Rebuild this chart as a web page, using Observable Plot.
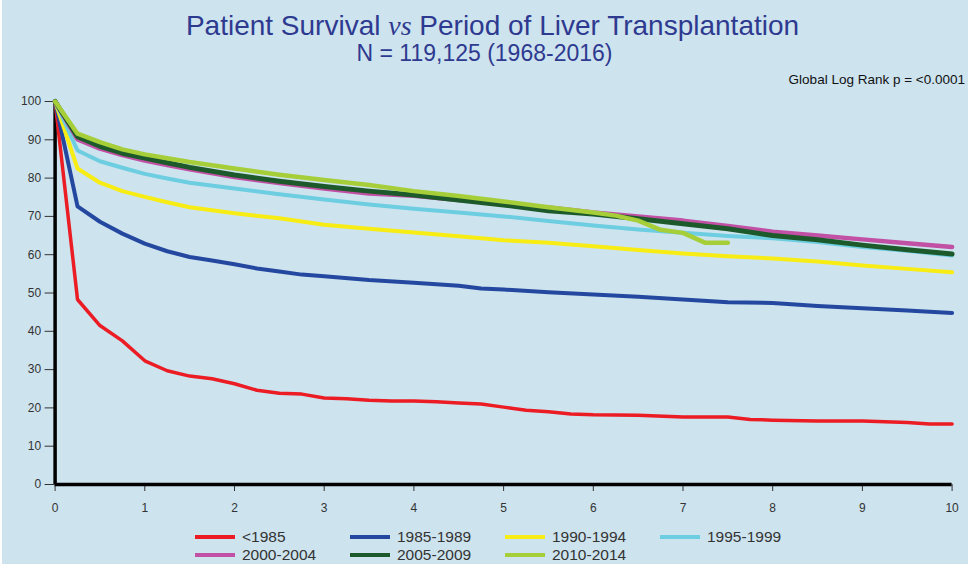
<!DOCTYPE html>
<html>
<head>
<meta charset="utf-8">
<script src="https://cdn.jsdelivr.net/npm/d3@7"></script>
<script src="https://cdn.jsdelivr.net/npm/@observablehq/plot@0.6"></script>
<style>
  body { margin: 0; background: #ffffff; width: 972px; height: 567px; overflow: hidden; font-family: "Liberation Sans", Arial, sans-serif; }
  #panel { position: absolute; left: 2px; top: 0; width: 966px; height: 564px; background: #cde3ee; }
  .t { position: absolute; white-space: nowrap; }
  #title { left: 0; width: 985px; text-align: center; top: 12px; font-size: 28px; line-height: 28px; color: #2e3a90; }
  #title i { font-family: "Liberation Serif", "Times New Roman", serif; }
  #subtitle { left: 0; width: 969px; text-align: center; top: 42px; font-size: 23px; line-height: 23px; color: #2e3a90; }
  #logrank { right: 7px; top: 73px; font-size: 13.5px; line-height: 14px; color: #111; }
  #chart { position: absolute; left: 0; top: 80px; }
  .leg { position: absolute; height: 18px; font-size: 15.5px; line-height: 18px; color: #333; }
  .leg .sw { position: absolute; left: 0; top: 7px; width: 40px; height: 4px; }
  .leg .lb { position: absolute; left: 47px; top: 0; white-space: nowrap; }
</style>
</head>
<body>
<div id="panel"></div>
<div class="t" id="title">Patient Survival <i>vs</i> Period of Liver Transplantation</div>
<div class="t" id="subtitle">N = 119,125 (1968-2016)</div>
<div class="t" id="logrank">Global Log Rank p = &lt;0.0001</div>
<div id="chart"></div>
<div id="legend"></div>
<script>
// ---- data (years after transplant, % survival) ----
const seriesNames = ["<1985", "1985-1989", "1990-1994", "1995-1999", "2000-2004", "2005-2009", "2010-2014"];
const seriesColors = ["#ec1c24", "#2448a0", "#f7ec13", "#6dcde1", "#c250a5", "#1d5a2b", "#a6ce39"];

const tRed = [0,0.25,0.5,0.75,1,1.25,1.5,1.75,2,2.25,2.5,2.75,3,3.25,3.5,3.75,4,4.25,4.5,4.75,5,5.25,5.5,5.75,6,6.5,7,7.25,7.5,7.75,8,8.5,9,9.5,9.75,10];
const vRed = [100,48.3,41.5,37.5,32.3,29.7,28.3,27.6,26.3,24.6,23.8,23.6,22.6,22.4,22.0,21.8,21.8,21.6,21.3,21.0,20.2,19.4,19.0,18.4,18.2,18.1,17.6,17.6,17.6,17.0,16.8,16.6,16.6,16.2,15.8,15.8];

const tBlue = [0,0.25,0.5,0.75,1,1.25,1.5,1.75,2,2.25,2.5,2.75,3,3.5,4,4.5,4.75,5,5.5,6,6.5,7,7.5,8,8.5,9,9.5,10];
const vBlue = [100,72.6,68.6,65.5,62.9,60.9,59.4,58.5,57.5,56.4,55.6,54.8,54.4,53.4,52.7,51.9,51.2,50.9,50.2,49.6,49.0,48.3,47.6,47.4,46.6,46.0,45.4,44.8];

const tStd = [0,0.25,0.5,0.75,1,1.25,1.5,2,2.5,3,3.5,4,4.5,5,5.5,6,6.5,7,7.5,8,8.5,9,9.5,10];
const vYellow = [100,82.5,78.8,76.6,75.1,73.7,72.4,70.8,69.5,67.8,66.8,65.8,64.8,63.8,63.1,62.2,61.2,60.3,59.6,59.0,58.2,57.2,56.3,55.4];
const vCyan   = [100,87.2,84.4,82.7,81.1,79.9,78.8,77.3,75.8,74.4,73.1,72.0,71.0,70.0,68.8,67.6,66.6,65.7,64.9,64.3,63.3,62.0,61.0,59.8];
const vPink   = [100,90.1,87.7,86.0,84.6,83.4,82.3,80.3,78.7,77.3,76.0,75.4,74.3,73.3,72.3,71.0,70.0,68.9,67.5,66.0,65.0,64.0,63.0,62.0];
const vDkGrn  = [100,90.8,88.3,86.5,85.2,84.0,82.8,80.8,79.2,77.8,76.6,75.6,74.3,73.0,71.5,70.6,69.4,68.1,66.8,65.0,63.9,62.5,61.3,60.2];

const tLime = [0,0.25,0.5,0.75,1,1.25,1.5,2,2.5,3,3.5,4,4.5,5,5.5,6,6.25,6.5,6.75,7,7.25,7.5];
const vLime = [100,91.6,89.4,87.5,86.2,85.2,84.2,82.5,80.9,79.5,78.2,76.6,75.3,73.9,72.4,71.0,70.2,68.9,66.5,65.7,63.1,63.1];

const xTicks = [0,1,2,3,4,5,6,7,8,9,10];
const yTicks = [0,10,20,30,40,50,60,70,80,90,100];

const seriesT = [tRed, tBlue, tStd, tStd, tStd, tStd, tLime];
const seriesV = [vRed, vBlue, vYellow, vCyan, vPink, vDkGrn, vLime];
const widths = [3.5, 4, 4, 4, 4.5, 5, 4.5];

const lineMarks = seriesNames.map((name, i) => {
  const rows = seriesT[i].map((t, j) => ({t, v: seriesV[i][j], s: name}));
  return Plot.line(rows, {x: "t", y: "v", stroke: seriesColors[i], strokeWidth: widths[i], strokeLinejoin: "round", strokeLinecap: "round"});
});

const chart = Plot.plot({
  width: 972,
  height: 440,
  marginTop: 21,
  marginBottom: 36,
  marginLeft: 54.6,
  marginRight: 20.4,
  style: {background: "transparent", fontFamily: "'Liberation Sans', Arial, sans-serif", fontSize: "12px", color: "#333"},
  x: {domain: [0, 10], ticks: xTicks, label: null, tickSize: 7, tickPadding: 12},
  y: {domain: [0, 100], ticks: yTicks, label: null, tickSize: 10, tickPadding: 4},
  marks: [
    Plot.ruleX([0], {y1: 0, y2: 100, stroke: "#000", strokeWidth: 3.5}),
    Plot.ruleY([0], {x1: 0, x2: 10, stroke: "#000", strokeWidth: 3.5}),
    ...lineMarks
  ]
});
document.getElementById("chart").appendChild(chart);

// legend
const legX = [195, 350, 505, 660];
const legY = [528, 546];
const legend = document.getElementById("legend");
seriesNames.forEach((name, i) => {
  const d = document.createElement("div");
  d.className = "leg";
  d.style.left = legX[i % 4] + "px";
  d.style.top = legY[Math.floor(i / 4)] + "px";
  d.innerHTML = `<div class="sw" style="background:${seriesColors[i]}"></div><div class="lb"></div>`;
  d.querySelector(".lb").textContent = name;
  legend.appendChild(d);
});
</script>
</body>
</html>
